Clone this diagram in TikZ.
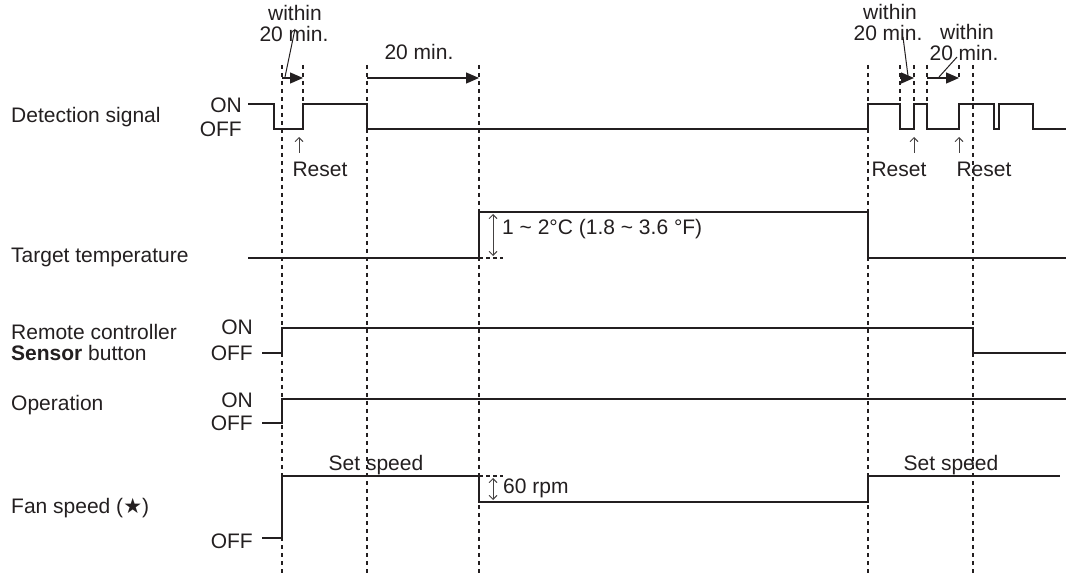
\documentclass[tikz,border=0pt]{standalone}
\usepackage{fontspec}
\setmainfont{Liberation Sans}
\newfontfamily\dejavu{DejaVu Sans}
\usetikzlibrary{arrows.meta}
\definecolor{ink}{HTML}{231F20}
\begin{document}
\begin{tikzpicture}[x=1pt,y=-1pt,
  every node/.style={font=\fontsize{21}{21}\selectfont, inner sep=0pt, text=ink},
  lbl/.style={anchor=base west},
  lvl/.style={anchor=base east},
  ctr/.style={anchor=base},
  sig/.style={line width=1.5pt, draw=ink, line join=miter},
  guide/.style={line width=2pt, draw=ink, dash pattern=on 4pt off 4pt},
  timearrow/.style={line width=1.3pt, draw=ink, -{Triangle[length=13pt,width=11pt]}},
  leader/.style={line width=1pt, draw=ink},
  thinarrow/.style={line width=0.9pt, draw=ink!85, -{Straight Barb[length=4pt,width=8pt]}},
  dimarrow/.style={line width=0.9pt, draw=ink!85, {Straight Barb[length=4pt,width=8pt]}-{Straight Barb[length=4pt,width=8pt]}},
  tick/.style={line width=1.4pt, draw=ink, dash pattern=on 4pt off 3pt}
]
\useasboundingbox (0,0) rectangle (1066,577);

% ---- vertical guides ----
\foreach \x in {282,367,479,868,973} \draw[guide] (\x,65) -- (\x,577);
\foreach \x in {303,900,914,927} \draw[guide] (\x,65) -- (\x,103);
\draw[guide] (959,65) -- (959,80);

% ---- left labels ----
\node[lbl] (ldet) at (11,123) {Detection signal};
\node[lbl] (ltmp) at (11,263) {Target temperature};
\node[lbl] (lrc1) at (11,340) {Remote controller};
\node[lbl] (lrc2) at (11,360) {\textbf{Sensor} button};
\node[lbl] (lop) at (11,410) {Operation};
\node[lbl] (lfan) at (11,513) {Fan speed ({\dejavu ★})};

% ---- ON/OFF levels ----
\node[lvl] (don) at (242,113) {ON};
\node[lvl] (doff) at (242,137) {OFF};
\node[lvl] (ron) at (253,335) {ON};
\node[lvl] (roff) at (253,360) {OFF};
\node[lvl] (oon) at (253,407) {ON};
\node[lvl] (ooff) at (253,430) {OFF};
\node[lvl] (foff) at (253,548) {OFF};

% ---- signals ----
\draw[sig] (248,104) -| (274,129) -| (303,104) -| (367,129) -| (868,104)
  -| (900,129) -| (914,104) -| (927,129) -| (959,104) -| (994,129)
  -| (999,104) -| (1033,129) -- (1066,129);
\draw[sig] (248,258) -| (479,212) -| (868,258) -- (1066,258);
\draw[sig] (262,353) -| (282,328) -| (973,353) -- (1066,353);
\draw[sig] (262,423) -| (282,399) -- (1066,399);
\draw[sig] (262,538) -| (282,476) -| (479,502) -| (868,476) -- (1060,476);

% ---- time arrows ----
\coordinate (a1s) at (282,78); \coordinate (a1e) at (303,78);
\coordinate (a2s) at (367,78); \coordinate (a2e) at (479,78);
\coordinate (a3s) at (900,78); \coordinate (a3e) at (914,78);
\coordinate (a4s) at (927,78); \coordinate (a4e) at (959,78);
\draw[timearrow] (a1s) -- (a1e);
\draw[timearrow] (a2s) -- (a2e);
\draw[timearrow] (a3s) -- (a3e);
\draw[timearrow] (a4s) -- (a4e);

\node[ctr] (w1a) at (295,21) {within};
\node[ctr] (w1b) at (294,42) {20 min.};
\node[ctr] (t20) at (419,60) {20 min.};
\node[ctr] (w3a) at (890,20) {within};
\node[ctr] (w3b) at (888,41) {20 min.};
\node[ctr] (w4a) at (967,40) {within};
\node[ctr] (w4b) at (964,61) {20 min.};

\coordinate (l1s) at (295,29); \coordinate (l1e) at (285,77);
\coordinate (l3s) at (903,37); \coordinate (l3e) at (908,76);
\coordinate (l4s) at (957,57); \coordinate (l4e) at (939,77);
\draw[leader] (l1s) -- (l1e);
\draw[leader] (l3s) -- (l3e);
\draw[leader] (l4s) -- (l4e);

% ---- reset ----
\coordinate (r1) at (299,153); \coordinate (r1t) at (299,137);
\coordinate (r2) at (914,153); \coordinate (r2t) at (914,137);
\coordinate (r3) at (959,153); \coordinate (r3t) at (959,137);
\draw[thinarrow] (r1) -- (r1t);
\draw[thinarrow] (r2) -- (r2t);
\draw[thinarrow] (r3) -- (r3t);
\node[ctr] (res1) at (320,177) {Reset};
\node[ctr] (res2) at (899,177) {Reset};
\node[ctr] (res3) at (984,177) {Reset};

% ---- temperature dimension ----
\coordinate (tdt) at (493,214); \coordinate (tdb) at (493,256);
\draw[dimarrow] (tdt) -- (tdb);
\draw[tick] (479,258) -- (503,258);
\node[lbl] (tlab) at (502,235) {1 \textasciitilde\ 2°C (1.8 \textasciitilde\ 3.6 °F)};

% ---- fan ----
\node[ctr] (ss1) at (376,470) {Set speed};
\node[ctr] (ss2) at (951,470) {Set speed};
\coordinate (fdt) at (493,478); \coordinate (fdb) at (493,500);
\draw[dimarrow] (fdt) -- (fdb);
\draw[tick] (479,476) -- (503,476);
\node[lbl] (rpm) at (503,493) {60 rpm};
\end{tikzpicture}
\end{document}
